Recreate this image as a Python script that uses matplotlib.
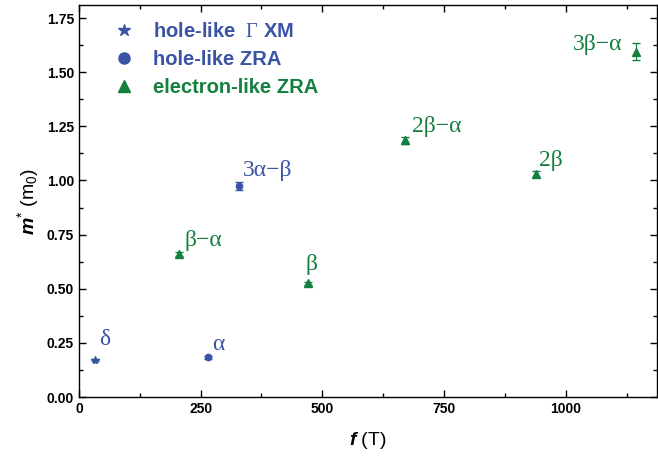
import matplotlib
matplotlib.use("Agg")
import matplotlib.pyplot as plt
from matplotlib.lines import Line2D

# hole-like Gamma XM (star)
f_star = [32]
m_star = [0.17]
e_star = [0.005]
lab_star = ["δ"]

# hole-like ZRA (circle)
f_circ = [265, 329]
m_circ = [0.183, 0.975]
e_circ = [0.006, 0.02]
lab_circ = ["α", "3α−β"]

# electron-like ZRA (triangle)
f_tri = [206, 470, 669, 940, 1145]
m_tri = [0.66, 0.525, 1.185, 1.03, 1.595]
e_tri = [0.008, 0.008, 0.015, 0.012, 0.04]
lab_tri = ["β−α", "β", "2β−α", "2β", "3β−α"]

BLUE = "#3a54a4"
GREEN = "#13803f"

plt.rcParams['font.family'] = ['Liberation Sans', 'DejaVu Sans']
plt.rcParams['mathtext.fontset'] = 'custom'
plt.rcParams['mathtext.rm'] = 'Liberation Serif'
plt.rcParams['mathtext.sf'] = 'Liberation Sans'
plt.rcParams['mathtext.it'] = 'Liberation Sans:italic'
plt.rcParams['mathtext.bf'] = 'Liberation Sans:bold'
plt.rcParams['mathtext.bfit'] = 'Liberation Sans:italic:bold'

fig = plt.figure(figsize=(6.58, 4.59), dpi=100)
ax = fig.add_axes([0.12, 0.135, 0.878, 0.854])

ax.errorbar(f_star, m_star, yerr=e_star, fmt='*', color=BLUE, ms=6, capsize=3, elinewidth=0.8)
ax.errorbar(f_circ, m_circ, yerr=e_circ, fmt='o', color=BLUE, ms=4.5, capsize=3, elinewidth=0.8)
ax.errorbar(f_tri, m_tri, yerr=e_tri, fmt='^', color=GREEN, ms=6, capsize=3, elinewidth=0.8)

serif = ['Liberation Serif', 'DejaVu Serif']
# label offsets in pixels (dx, dy to baseline), and horizontal alignment
offsets = {
    "δ": (5, 15, 'left'), "α": (4, 7, 'left'), "3α−β": (4, 10, 'left'),
    "β−α": (5, 8, 'left'), "β": (-2, 13, 'left'), "2β−α": (7, 8, 'left'),
    "2β": (3, 8, 'left'), "3β−α": (-14, 2, 'right'),
}
for xs, ys, labs, col in [(f_star, m_star, lab_star, BLUE),
                          (f_circ, m_circ, lab_circ, BLUE),
                          (f_tri, m_tri, lab_tri, GREEN)]:
    for x, y, t in zip(xs, ys, labs):
        dx, dy, ha = offsets[t]
        ax.annotate(t, (x, y), xytext=(dx, dy), textcoords='offset pixels',
                    color=col, fontsize=17, family=serif, ha=ha, va='baseline')

ax.set_xlim(0, 1187)
ax.set_ylim(0, 1.81)
ax.set_xticks([0, 250, 500, 750, 1000])
ax.set_xticks([125, 375, 625, 875, 1125], minor=True)
ax.set_yticks([0, 0.25, 0.5, 0.75, 1.0, 1.25, 1.5, 1.75])
ax.set_yticks([0.125, 0.375, 0.625, 0.875, 1.125, 1.375, 1.625], minor=True)
ax.set_yticklabels([f"{v:.2f}" for v in ax.get_yticks()])
ax.tick_params(which='both', direction='in', top=True, right=True, labelsize=10, width=1)
ax.tick_params(which='major', length=5)
ax.tick_params(which='minor', length=3)
for lbl in ax.get_xticklabels() + ax.get_yticklabels():
    lbl.set_fontweight('bold')
for s in ax.spines.values():
    s.set_linewidth(1)

ax.set_xlabel(r"$\mathbfit{f}$ (T)", fontsize=14)
ax.set_ylabel(r"$\mathbfit{m}^{\mathsf{*}}$ (m$_{\mathsf{0}}$)", fontsize=14)
ax.xaxis.set_label_coords(0.5, -0.085)

handles = [
    Line2D([], [], marker='*', ls='', color=BLUE, ms=9),
    Line2D([], [], marker='o', ls='', color=BLUE, ms=8),
    Line2D([], [], marker='^', ls='', color=GREEN, ms=9),
]
labels = ["hole-like  $\\mathrm{\\Gamma}$ XM", "hole-like ZRA", "electron-like ZRA"]
leg = ax.legend(handles, labels, loc='upper left', bbox_to_anchor=(0.061, 0.957),
                frameon=False, handlelength=1.0, handletextpad=0.94,
                labelspacing=0.45, borderpad=0, borderaxespad=0,
                prop={'weight': 'bold', 'size': 14.5},
                labelcolor=[BLUE, BLUE, GREEN])

fig.savefig("out.png", dpi=100)
